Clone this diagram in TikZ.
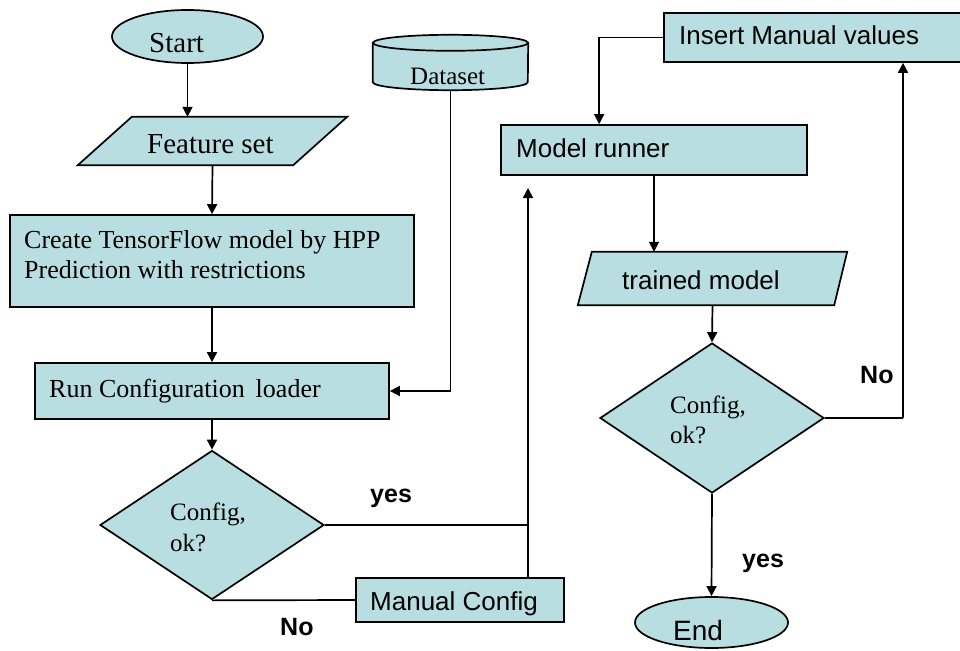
\documentclass[tikz,border=0pt]{standalone}
\usepackage{fontspec}
\setmainfont{Liberation Serif}
\newfontfamily\arialf{Liberation Sans}
\usetikzlibrary{shapes.geometric,arrows.meta,calc}
\definecolor{boxfill}{RGB}{184,222,226}

\begin{document}
\begin{tikzpicture}[x=1pt,y=-1pt,
  outline/.style={draw=black,line width=1.7pt,fill=boxfill},
  box/.style={outline,rectangle,inner sep=0pt},
  frame/.style={rectangle,draw=none,inner sep=0pt},
  oval/.style={outline,ellipse,inner sep=0pt},
  decision/.style={outline,diamond,inner sep=0pt},
  flow/.style={line width=1.7pt,-{Triangle[length=10pt,width=10pt]}},
  link/.style={line width=1.7pt},
  txt/.style={anchor=base west,inner sep=0pt},
  rm/.style={txt,font=\fontsize{#1}{#1}\selectfont},
  sf/.style={txt,font=\arialf\fontsize{#1}{#1}\selectfont},
  sfb/.style={txt,font=\arialf\bfseries\fontsize{#1}{#1}\selectfont}
]
\useasboundingbox (0,0) rectangle (960,650);

% ---- left column ----
\node[oval,minimum width=151pt,minimum height=53pt] (start) at (187.5,36.5) {};
\node[rm=29] (tstart) at (149,53) {Start};

\node[frame,minimum width=269pt,minimum height=48pt] (fs) at (212.5,141) {};
\filldraw[outline] ([xshift=54pt]fs.north west) -- (fs.north east)
  -- ([xshift=-54pt]fs.south east) -- (fs.south west) -- cycle;
\node[rm=29] (tfs) at (147,153) {Feature set};

\node[box,minimum width=404pt,minimum height=92pt] (create) at (212,261) {};
\node[rm=26] (tcreate1) at (24,248) {Create TensorFlow model by HPP};
\node[rm=26] (tcreate2) at (24,278) {Prediction with restrictions};

\node[box,minimum width=354pt,minimum height=56pt] (run) at (212,391) {};
\node[rm=26] (trun) at (49,397) {Run Configuration\, loader};

\node[decision,minimum width=224pt,minimum height=149pt] (d1) at (212,525) {};
\node[rm=25] (td1a) at (170,520) {Config,};
\node[rm=25] (td1b) at (170,551) {ok?};

\node[box,minimum width=208pt,minimum height=44pt] (mc) at (460,600) {};
\node[sf=26] (tmc) at (370,610) {Manual Config};

% ---- dataset store ----
\node[frame,minimum width=155pt,minimum height=55pt] (ds) at (450.5,62.5) {};
\filldraw[outline] ([yshift=-8pt]ds.north west) -- ([yshift=8pt]ds.south west)
  arc[start angle=180,end angle=360,x radius=77.5pt,y radius=8pt]
  -- ([yshift=-8pt]ds.north east) -- cycle;
\filldraw[outline] ([yshift=-8pt]ds.north) ellipse[x radius=77.5pt,y radius=8pt];
\node[rm=25] (tds) at (410,85) {Dataset};

% ---- right column ----
\node[box,minimum width=298pt,minimum height=49pt] (ins) at (813,37.5) {};
\node[sf=26] (tins) at (679,45) {Insert Manual values};

\node[box,minimum width=306pt,minimum height=50pt] (mr) at (654,150) {};
\node[sf=26] (tmr) at (516,157) {Model runner};

\node[frame,minimum width=269pt,minimum height=53pt] (tm) at (712.5,278.5) {};
\filldraw[outline] ([xshift=14pt]tm.north west) -- (tm.north east)
  -- ([xshift=-13pt]tm.south east) -- (tm.south west) -- cycle;
\node[sf=26] (ttm) at (622,289) {trained model};

\node[decision,minimum width=224pt,minimum height=150pt] (d2) at (712,418) {};
\node[rm=25] (td2a) at (670,413) {Config,};
\node[rm=25] (td2b) at (670,443) {ok?};

\node[oval,minimum width=153pt,minimum height=51pt] (end) at (711.5,622.5) {};
\node[sf=28] (tend) at (673,640) {End};

% ---- branch labels ----
\node[sfb=25] (lyes1) at (370,502) {yes};
\node[sfb=25] (lno1) at (280,635) {No};
\node[sfb=25] (lno2) at (860,383) {No};
\node[sfb=25] (lyes2) at (742,567) {yes};

% ---- connectors ----
\coordinate (mrin) at (528,188);
\coordinate (rback) at (903,418);

\draw[flow] (start.south) -- (start.south |- fs.north);
\draw[flow] (fs.south) -- (create.north);
\draw[flow] (create.south) -- (run.north);
\draw[flow] (ds.south) |- (run.east);
\draw[flow] (run.south) -- (d1.north);
\draw[link] (d1.east) -- (d1.east -| mrin);
\draw[flow] (mrin |- mc.north) -- (mrin);
\draw[link] (d1.south) -- (mc.west);

\draw[flow] (ins.west) -| ([xshift=99pt]mr.north west);
\draw[flow] (mr.south) -- (mr.south |- tm.north);
\draw[flow] (tm.south) -- (d2.north);
\draw[link] (d2.east) -- (rback);
\draw[flow] (rback) -- (rback |- ins.south);
\draw[flow] (d2.south) -- (end.north);
\end{tikzpicture}
\end{document}
